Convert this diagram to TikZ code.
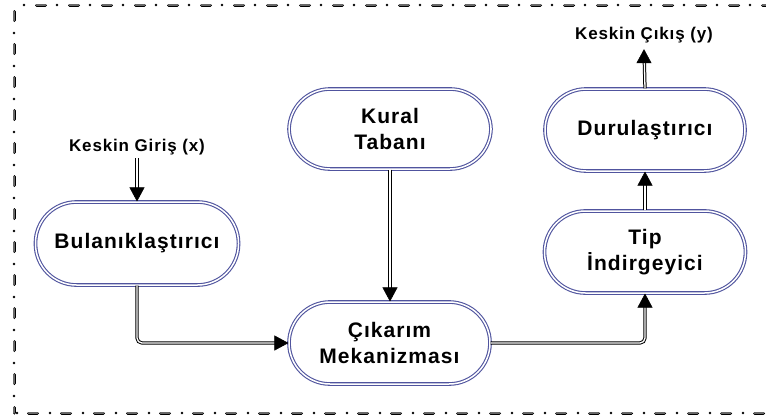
\documentclass[tikz,border=0pt]{standalone}
\usepackage{fontspec}
\setmainfont{Liberation Sans}[LetterSpace=5]
\usetikzlibrary{arrows.meta}
\definecolor{boxblue}{RGB}{80,84,158}
\definecolor{framegray}{RGB}{105,105,105}
\begin{document}
\begin{tikzpicture}[x=1pt,y=-1pt,
  stage/.style={draw=boxblue, line width=1.1pt, double=white, double distance=1.5pt,
    rounded corners=41pt, align=center, inner sep=0pt,
    font=\bfseries\fontsize{21}{26}\selectfont},
  ext/.style={font=\bfseries\fontsize{17}{20}\selectfont, inner sep=1pt},
  flow/.style={draw=black, line width=1pt, double=white, double distance=1.3pt,
    rounded corners=5pt, shorten >=9pt},
  head/.style={draw=black, fill=black, line width=0.5pt,
    -{Triangle[width=15pt,length=14pt]}},
  framedash/.style={line width=3pt, line cap=round, dash pattern=on 9pt off 24pt,
    dash phase=#1, postaction={draw=framegray, line width=1.2pt}},
  framedot/.style={line width=2.6pt, line cap=round, dash pattern=on 0pt off 33pt,
    dash phase=#1}]
\useasboundingbox (0,0) rectangle (766,418);

% dash-dot outer frame
\begin{scope}
  \clip (0,0) rectangle (766,418);
  \draw[framedash=26.5] (14,5) -- (14,413);
  \draw[framedot=5] (14,5) -- (14,413);
  \draw[framedash=10.5] (14,5) -- (800,5);
  \draw[framedot=23] (14,5) -- (800,5);
  \draw[framedash=18.5] (14,413) -- (800,413);
  \draw[framedot=30] (14,413) -- (800,413);
\end{scope}

% processing stages
\node[stage, minimum width=203pt, minimum height=83pt] (bul) at (137,243.5) {Bulanıklaştırıcı};
\node[stage, minimum width=202pt, minimum height=80pt] (kural) at (390,129) {Kural\\Tabanı};
\node[stage, minimum width=201pt, minimum height=82pt] (cik) at (389.5,343) {Çıkarım\\Mekanizması};
\node[stage, minimum width=201pt, minimum height=82pt] (tip) at (645,252) {Tip\\İndirgeyici};
\node[stage, minimum width=200pt, minimum height=82pt] (dur) at (645,130) {Durulaştırıcı};

% crisp input and output
\node[ext] (gin) at (137,147) {Keskin Giriş (x)};
\node[ext] (gout) at (644,35) {Keskin Çıkış (y)};
\coordinate (ginend) at ([yshift=-2pt]gin.south);
\coordinate (goutend) at ([yshift=-5pt]gout.south);
\coordinate (kuralend) at (cik.north -| kural.south);

% connector shafts
\draw[flow] (ginend) -- (bul.north);
\draw[flow] (bul.south) |- (cik.west);
\draw[flow] (kural.south) -- (kuralend);
\draw[flow] (cik.east) -| (tip.south);
\draw[flow] (tip.north) -- (dur.south);
\draw[flow] (dur.north) -- (goutend);

% arrowheads
\draw[head] ([yshift=10pt]bul.north) -- (bul.north);
\draw[head] ([xshift=-10pt]cik.west) -- (cik.west);
\draw[head] ([yshift=10pt]kuralend) -- (kuralend);
\draw[head] ([yshift=-10pt]tip.south) -- (tip.south);
\draw[head] ([yshift=-10pt]dur.south) -- (dur.south);
\draw[head] ([yshift=-10pt]goutend) -- (goutend);
\end{tikzpicture}
\end{document}
